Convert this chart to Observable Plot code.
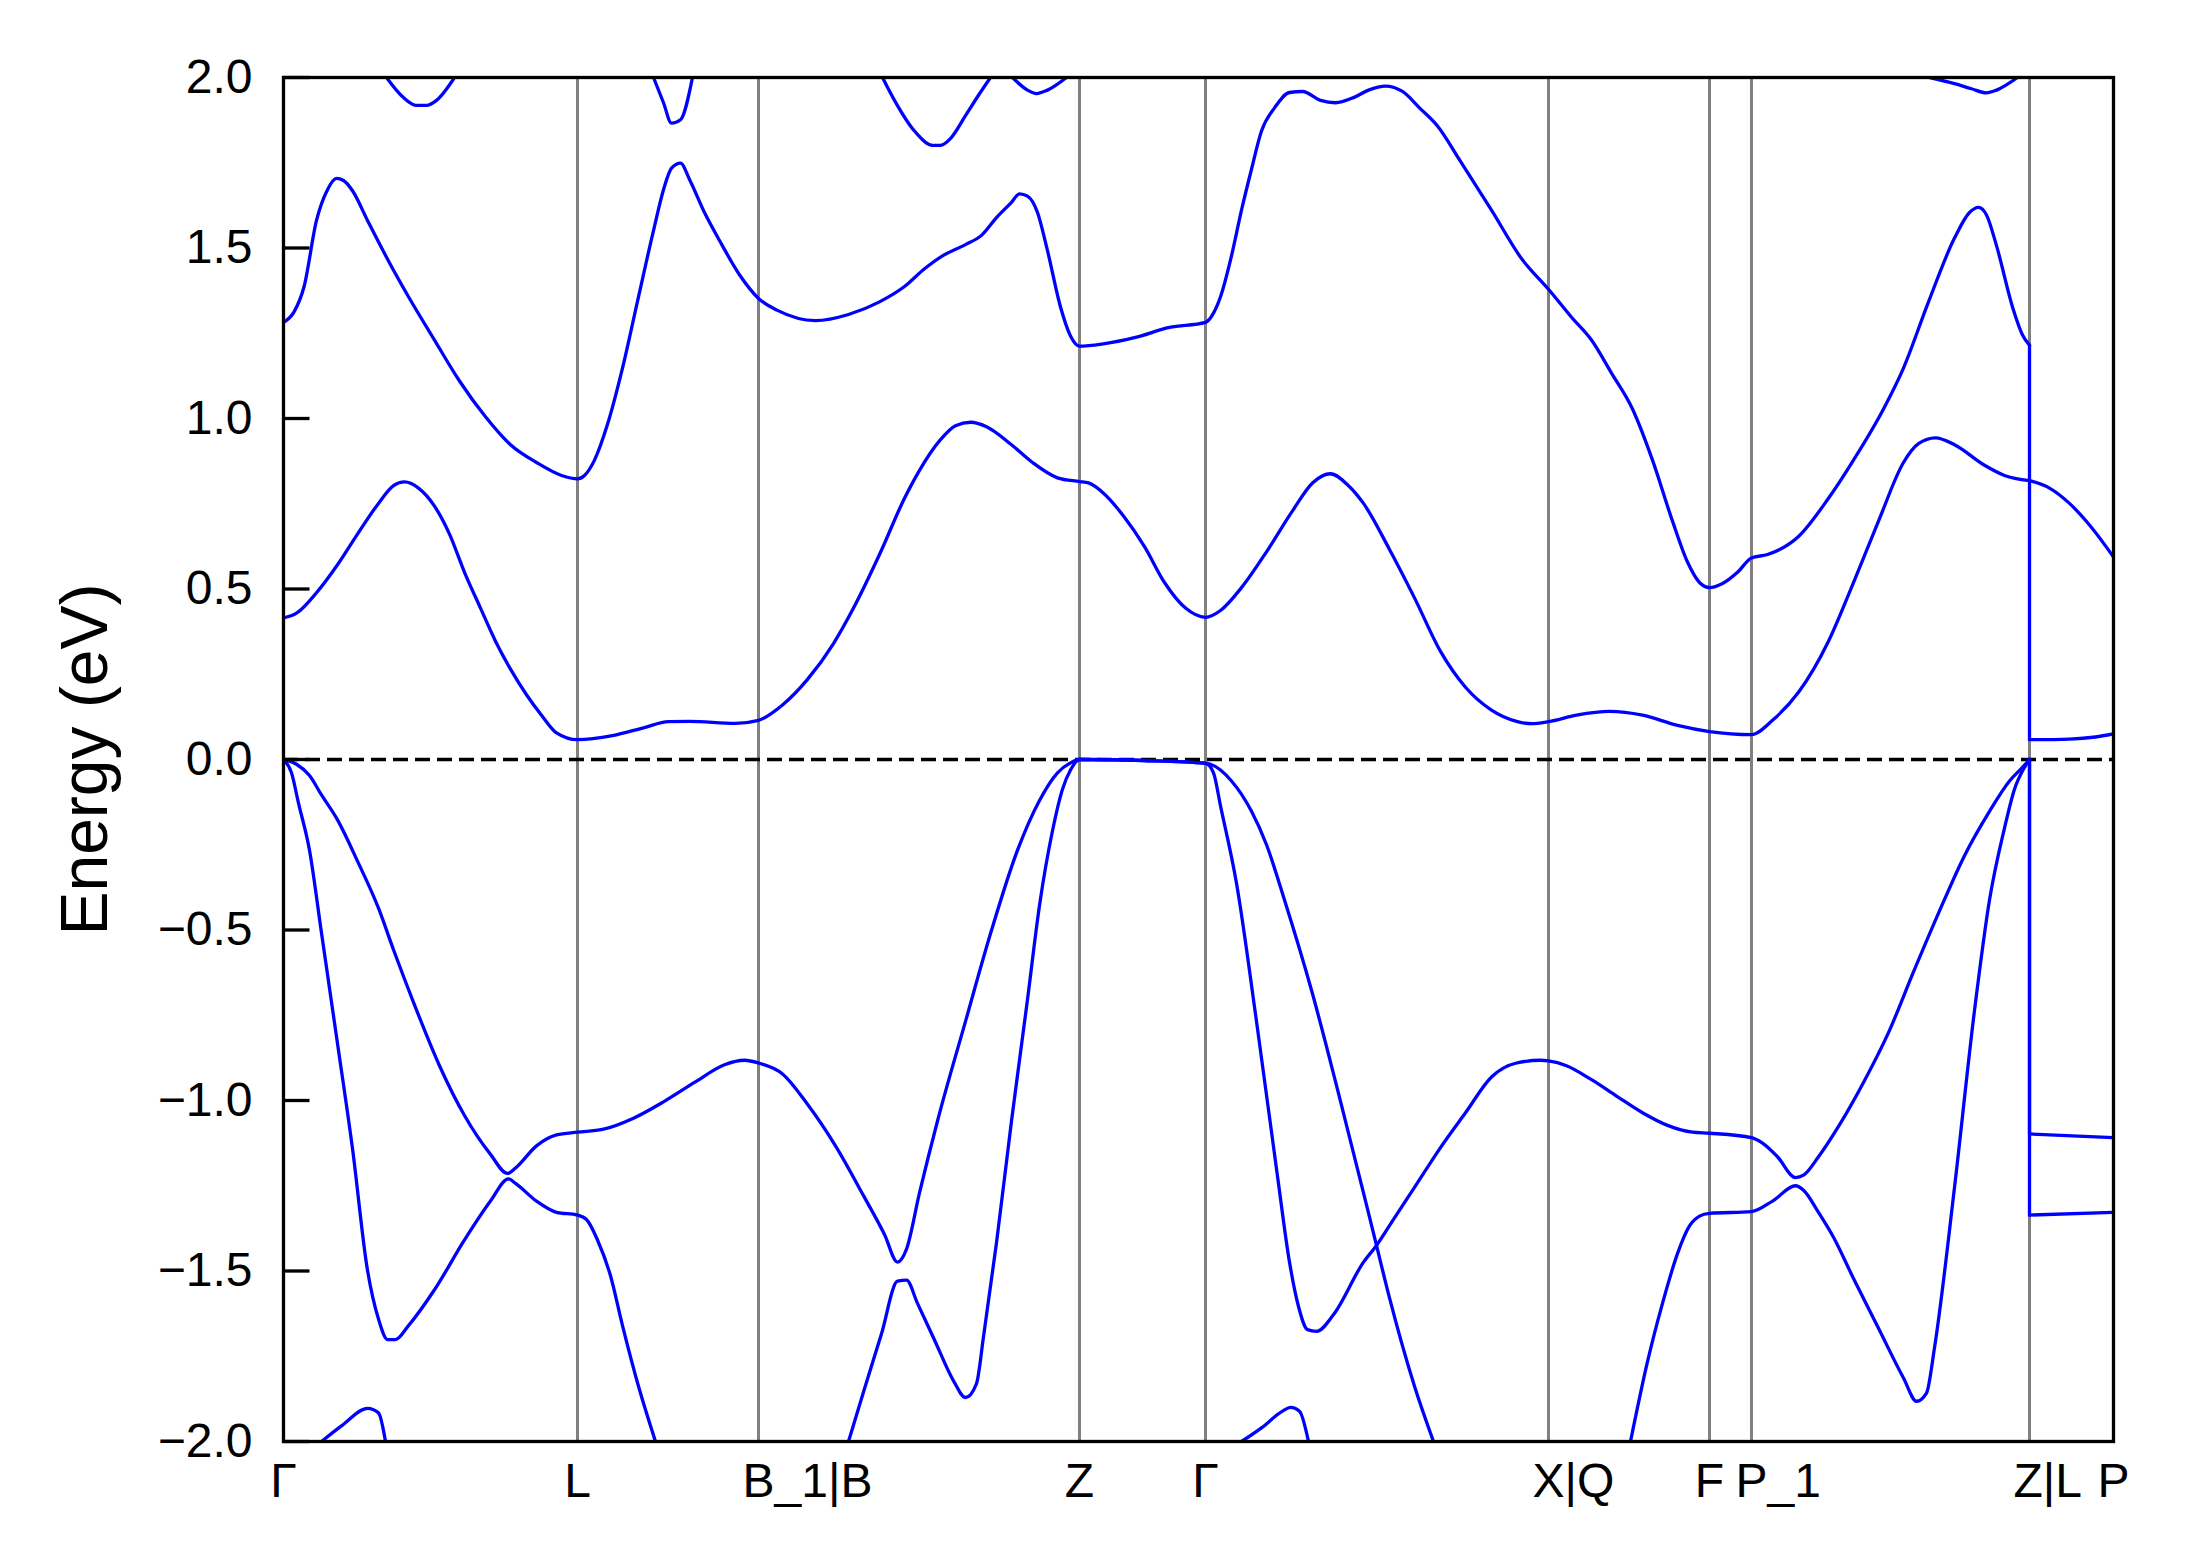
<!DOCTYPE html>
<html>
<head>
<meta charset="utf-8">
<script src="https://cdn.jsdelivr.net/npm/d3@7"></script>
<script src="https://cdn.jsdelivr.net/npm/@observablehq/plot@0.6"></script>
<style>
  html, body { margin: 0; padding: 0; background: #ffffff; }
</style>
</head>
<body>
<div id="chart"></div>
<script>
// High-symmetry points along the k-path (cumulative distance, arbitrary units)
const symK = [0, 0.294, 0.475, 0.796, 0.922, 1.265, 1.426, 1.468, 1.746, 1.830];
const symLabels = ["Γ", "L", "B_1|B", "Z", "Γ", "X|Q", "F", "P_1", "Z|L", "P"];
const yTicks = [-2, -1.5, -1, -0.5, 0, 0.5, 1, 1.5, 2];

// Bands: [k, E (eV)]; null marks where a band leaves the window
const bandC1 = [[0,0.415],[0.013,0.429],[0.033,0.489],[0.054,0.571],[0.074,0.661],[0.095,0.751],[0.110,0.803],[0.121,0.814],[0.135,0.796],[0.151,0.743],[0.166,0.661],[0.181,0.549],[0.197,0.444],[0.212,0.347],[0.227,0.265],[0.243,0.190],[0.258,0.130],[0.273,0.078],[0.294,0.058],[0.329,0.070],[0.360,0.093],[0.385,0.111],[0.406,0.112],[0.452,0.106],[0.475,0.115],[0.499,0.160],[0.524,0.235],[0.550,0.340],[0.570,0.444],[0.596,0.601],[0.621,0.766],[0.636,0.848],[0.657,0.938],[0.672,0.979],[0.687,0.989],[0.703,0.976],[0.728,0.923],[0.749,0.871],[0.774,0.826],[0.796,0.815],[0.805,0.811],[0.820,0.781],[0.840,0.714],[0.861,0.624],[0.881,0.519],[0.902,0.444],[0.922,0.417],[0.937,0.437],[0.958,0.504],[0.983,0.609],[1.009,0.729],[1.029,0.811],[1.047,0.838],[1.065,0.803],[1.080,0.751],[1.106,0.616],[1.131,0.474],[1.157,0.317],[1.182,0.212],[1.208,0.145],[1.233,0.112],[1.248,0.105],[1.265,0.111],[1.293,0.130],[1.326,0.141],[1.359,0.130],[1.394,0.100],[1.426,0.082],[1.468,0.073],[1.489,0.115],[1.515,0.197],[1.545,0.347],[1.570,0.519],[1.595,0.699],[1.620,0.871],[1.635,0.926],[1.652,0.943],[1.671,0.923],[1.701,0.863],[1.721,0.833],[1.746,0.818],[1.746,0.058],[1.786,0.060],[1.812,0.066],[1.830,0.075]];

const bandC2 = [[0,1.282],[0.0104,1.312],[0.0206,1.387],[0.033,1.581],[0.044,1.671],[0.053,1.704],[0.060,1.698],[0.069,1.668],[0.084,1.581],[0.105,1.462],[0.125,1.357],[0.151,1.230],[0.176,1.110],[0.202,1.005],[0.227,0.923],[0.253,0.871],[0.278,0.833],[0.294,0.823],[0.301,0.833],[0.311,0.878],[0.324,0.983],[0.339,1.148],[0.355,1.357],[0.370,1.551],[0.380,1.671],[0.388,1.734],[0.397,1.749],[0.406,1.701],[0.421,1.604],[0.436,1.522],[0.457,1.417],[0.475,1.352],[0.494,1.317],[0.532,1.287],[0.565,1.305],[0.596,1.342],[0.621,1.387],[0.641,1.439],[0.659,1.477],[0.682,1.510],[0.698,1.537],[0.713,1.589],[0.728,1.634],[0.736,1.659],[0.744,1.652],[0.754,1.604],[0.764,1.492],[0.777,1.327],[0.787,1.242],[0.796,1.212],[0.820,1.219],[0.851,1.237],[0.886,1.267],[0.922,1.282],[0.930,1.309],[0.937,1.357],[0.948,1.477],[0.958,1.611],[0.968,1.731],[0.978,1.843],[0.991,1.911],[1.006,1.956],[1.019,1.959],[1.037,1.933],[1.052,1.926],[1.070,1.941],[1.085,1.963],[1.102,1.975],[1.119,1.959],[1.136,1.911],[1.154,1.858],[1.177,1.754],[1.208,1.611],[1.238,1.469],[1.265,1.379],[1.288,1.297],[1.308,1.230],[1.328,1.133],[1.349,1.028],[1.369,0.878],[1.389,0.699],[1.404,0.579],[1.416,0.519],[1.426,0.504],[1.439,0.516],[1.454,0.549],[1.468,0.591],[1.484,0.601],[1.515,0.654],[1.545,0.766],[1.570,0.878],[1.600,1.028],[1.620,1.148],[1.645,1.342],[1.671,1.529],[1.686,1.604],[1.695,1.619],[1.703,1.597],[1.713,1.507],[1.729,1.327],[1.739,1.245],[1.746,1.215],[1.746,0.818],[1.766,0.796],[1.786,0.751],[1.807,0.684],[1.830,0.594]];

const bandC3 = [[0.103,2.0],[0.120,1.941],[0.133,1.918],[0.143,1.918],[0.153,1.933],[0.171,2.0],[0.27,null],
  [0.370,2.0],[0.380,1.926],[0.388,1.866],[0.397,1.876],[0.409,2.0],[0.5,null],
  [0.599,2.0],[0.611,1.933],[0.631,1.843],[0.649,1.801],[0.657,1.801],[0.667,1.821],[0.682,1.888],[0.695,1.948],[0.707,2.0],[0.718,null],
  [0.729,2.0],[0.744,1.963],[0.753,1.953],[0.764,1.963],[0.783,2.0],[1.2,null],
  [1.646,2.0],[1.671,1.982],[1.688,1.967],[1.703,1.955],[1.713,1.963],[1.734,2.0]];

const bandV1 = [[0,0],[0.013,-0.014],[0.026,-0.047],[0.038,-0.104],[0.054,-0.177],[0.074,-0.298],[0.095,-0.436],[0.110,-0.558],[0.130,-0.712],[0.156,-0.898],[0.181,-1.044],[0.207,-1.158],[0.224,-1.214],[0.232,-1.198],[0.253,-1.133],[0.273,-1.101],[0.294,-1.093],[0.319,-1.085],[0.350,-1.052],[0.380,-1.004],[0.411,-0.947],[0.441,-0.895],[0.461,-0.882],[0.475,-0.890],[0.499,-0.922],[0.524,-1.011],[0.552,-1.133],[0.580,-1.279],[0.601,-1.393],[0.614,-1.474],[0.623,-1.436],[0.636,-1.271],[0.654,-1.060],[0.682,-0.768],[0.708,-0.501],[0.733,-0.274],[0.756,-0.120],[0.774,-0.039],[0.787,-0.010],[0.796,0.0],[0.860,-0.003],[0.922,-0.011],[0.927,-0.014],[0.948,-0.063],[0.968,-0.152],[0.983,-0.250],[1.001,-0.412],[1.029,-0.687],[1.055,-0.979],[1.080,-1.271],[1.093,-1.425],[1.106,-1.579],[1.131,-1.838],[1.150,-2.0],[1.25,null],
  [1.347,-2.0],[1.364,-1.766],[1.379,-1.595],[1.394,-1.449],[1.406,-1.368],[1.416,-1.339],[1.426,-1.331],[1.468,-1.326],[1.489,-1.295],[1.512,-1.250],[1.520,-1.263],[1.535,-1.328],[1.550,-1.401],[1.570,-1.522],[1.595,-1.668],[1.620,-1.814],[1.633,-1.882],[1.643,-1.858],[1.651,-1.725],[1.671,-1.255],[1.691,-0.736],[1.706,-0.412],[1.721,-0.201],[1.731,-0.087],[1.741,-0.023],[1.746,0],[1.746,-1.336],[1.830,-1.328]];

const bandV2 = [[0,0],[0.008,-0.039],[0.015,-0.128],[0.026,-0.266],[0.038,-0.509],[0.054,-0.833],[0.069,-1.141],[0.084,-1.498],[0.095,-1.641],[0.104,-1.701],[0.112,-1.701],[0.125,-1.660],[0.151,-1.555],[0.181,-1.409],[0.207,-1.295],[0.225,-1.230],[0.232,-1.243],[0.253,-1.295],[0.273,-1.328],[0.294,-1.336],[0.303,-1.349],[0.314,-1.409],[0.327,-1.514],[0.339,-1.660],[0.355,-1.838],[0.372,-2.0],[0.47,null],
  [0.565,-2.0],[0.580,-1.855],[0.598,-1.684],[0.614,-1.530],[0.623,-1.527],[0.634,-1.595],[0.652,-1.709],[0.670,-1.822],[0.682,-1.871],[0.693,-1.830],[0.700,-1.693],[0.713,-1.417],[0.728,-1.060],[0.744,-0.704],[0.756,-0.428],[0.769,-0.209],[0.779,-0.087],[0.787,-0.031],[0.796,0],[0.860,-0.003],[0.922,-0.011],[0.930,-0.039],[0.937,-0.136],[0.953,-0.363],[0.973,-0.768],[0.994,-1.222],[1.006,-1.474],[1.015,-1.604],[1.024,-1.672],[1.033,-1.677],[1.050,-1.628],[1.080,-1.474],[1.093,-1.425],[1.111,-1.344],[1.131,-1.255],[1.157,-1.138],[1.182,-1.036],[1.208,-0.931],[1.233,-0.890],[1.257,-0.882],[1.265,-0.884],[1.283,-0.898],[1.308,-0.939],[1.333,-0.987],[1.359,-1.036],[1.384,-1.073],[1.409,-1.093],[1.426,-1.096],[1.468,-1.109],[1.479,-1.125],[1.494,-1.165],[1.512,-1.226],[1.520,-1.219],[1.535,-1.165],[1.555,-1.076],[1.580,-0.947],[1.605,-0.801],[1.630,-0.623],[1.656,-0.444],[1.681,-0.282],[1.706,-0.152],[1.726,-0.063],[1.739,-0.023],[1.746,0],[1.746,-1.098],[1.830,-1.109]];

const bandV3 = [[0.038,-2.0],[0.059,-1.952],[0.084,-1.903],[0.095,-1.916],[0.102,-2.0],[0.5,null],
  [0.958,-2.0],[0.978,-1.960],[0.999,-1.911],[1.007,-1.900],[1.016,-1.911],[1.025,-2.0]];

const bands = [bandC1, bandC2, bandC3, bandV1, bandV2, bandV3];

// Split each band at path discontinuities (two points with the same k):
// smooth pieces are drawn with a spline, the jump itself as a straight line.
const pieces = [];
const jumps = [];
for (const band of bands) {
  let cur = [];
  for (let i = 0; i < band.length; i++) {
    const p = band[i];
    const prev = band[i - 1];
    if (prev && prev[1] != null && p[1] != null && prev[0] === p[0]) {
      pieces.push(cur);
      jumps.push([prev, p]);
      cur = [];
    }
    cur.push(p);
  }
  pieces.push(cur);
}

// Layout
const W = 2189, H = 1567;
const mL = 283, mR = 76, mT = 77, mB = 126;
const innerW = W - mL - mR;

const tickLabelData = symK.map((k, i) => ({k, label: symLabels[i]}));
const singleLabels = tickLabelData.filter(d => d.label.length === 1);
const multiLabels = tickLabelData.filter(d => d.label.length > 1);

const font = "'Liberation Sans', Arial, Helvetica, sans-serif";
const blue = "#0000ff";

const chart = Plot.plot({
  width: W,
  height: H,
  marginLeft: mL,
  marginRight: mR,
  marginTop: mT,
  marginBottom: mB,
  style: {fontFamily: font, background: "#ffffff", color: "#000000"},
  x: {domain: [0, symK[symK.length - 1]], axis: null},
  y: {domain: [-2, 2]},
  marks: [
    Plot.ruleX(symK.slice(1, -1), {stroke: "#808080", strokeWidth: 3}),
    Plot.ruleY([0], {stroke: "#000000", strokeWidth: 3.3, strokeDasharray: "15,7"}),
    ...pieces.map(b => Plot.line(b, {x: d => d[0], y: d => d[1], stroke: blue, strokeWidth: 3.3, clip: true, curve: "monotone-x"})),
    ...jumps.map(j => Plot.line(j, {x: d => d[0], y: d => d[1], stroke: blue, strokeWidth: 3.3, clip: true})),
    Plot.ruleY(yTicks, {stroke: "#000000", strokeWidth: 3.3, insetRight: innerW - 26.5}),
    Plot.frame({stroke: "#000000", strokeWidth: 3.3}),
    Plot.axisY({ticks: yTicks, tickSize: 0, tickPadding: 31, tickFormat: d3.format(".1f"), fontSize: 48, label: null}),
    Plot.text(singleLabels, {x: "k", text: "label", frameAnchor: "bottom", lineAnchor: "top", dy: 21, fontSize: 48, textAnchor: "middle"}),
    Plot.text(multiLabels, {x: "k", text: "label", frameAnchor: "bottom", lineAnchor: "top", dy: 21, dx: -16, fontSize: 48, textAnchor: "start"}),
    Plot.text(["Energy (eV)"], {text: d => d, frameAnchor: "left", rotate: -90, dx: -198, fontSize: 66, lineAnchor: "middle", textAnchor: "middle"})
  ]
});
document.getElementById("chart").appendChild(chart);
</script>
</body>
</html>
